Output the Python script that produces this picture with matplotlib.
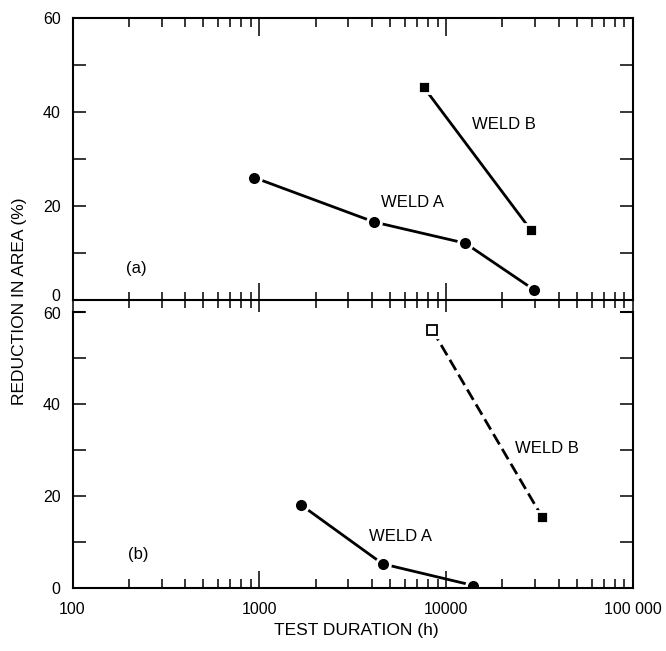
import matplotlib
matplotlib.use("Agg")
import matplotlib.pyplot as plt
import matplotlib.transforms as mtransforms
from matplotlib.lines import TICKDOWN
from matplotlib.ticker import FixedLocator, NullFormatter, FixedFormatter

plt.rcParams['font.family'] = ['Liberation Sans', 'DejaVu Sans']

# Panel (a)
a_weldA_x = [937, 4130, 12650, 29700]
a_weldA_y = [26.0, 16.5, 12.0, 2.0]
a_weldB_x = [7600, 28400]
a_weldB_y = [45.2, 14.8]

# Panel (b)
b_weldA_x = [1670, 4570, 14000]
b_weldA_y = [18.1, 5.3, 0.6]
b_weldB_x = [8440, 32700]
b_weldB_y = [56.0, 15.4]

xticks = [100, 1000, 10000, 100000]
xticklabels = ['100', '1000', '10000', '100 000']
xminor = [m * 10 ** e for e in (2, 3, 4) for m in range(2, 10)]
yticks = [0, 20, 40, 60]
ytick_labels = ['0', '20', '40', '60']

W, H = 666, 651
fig = plt.figure(figsize=(W/100, H/100), dpi=100)
L, R = 72.5/W, 633/W
ax1 = fig.add_axes([L, 1-299.5/H, R-L, (299.5-18)/H])
ax2 = fig.add_axes([L, 1-588.3/H, R-L, (588.3-311.7)/H])

lw = 2.0
tfs = 11.5

for ax in (ax1, ax2):
    ax.set_xscale('log')
    ax.set_xlim(100, 100000)
    ax.xaxis.set_major_locator(FixedLocator(xticks))
    ax.xaxis.set_minor_locator(FixedLocator(xminor))
    ax.xaxis.set_minor_formatter(NullFormatter())
    ax.set_ylim(0, 60)
    ax.yaxis.set_major_locator(FixedLocator(yticks))
    ax.yaxis.set_major_formatter(FixedFormatter(ytick_labels))
    ax.yaxis.set_minor_locator(FixedLocator([10, 30, 50]))
    ax.tick_params(axis='y', which='both', direction='in', left=True, right=True,
                   length=9.4, width=1.1, labelsize=tfs, pad=8.5)
    for s in ax.spines.values():
        s.set_linewidth(1.5)

# top panel x ticks: bottom ones cross the axis
ax1.tick_params(axis='x', which='major', direction='inout', bottom=True, top=False,
                length=24, width=1.1, labelbottom=False)
ax1.tick_params(axis='x', which='minor', direction='inout', bottom=True, top=False,
                length=12, width=1.1)
# top-edge ticks of panel (a), pointing inward
top_tr = mtransforms.blended_transform_factory(ax1.transData, ax1.transAxes)
ax1.plot(xticks, [1] * len(xticks), transform=top_tr, ls='none', marker=TICKDOWN,
         markersize=13, markeredgewidth=1.1, color='black', clip_on=False)
ax1.plot(xminor, [1] * len(xminor), transform=top_tr, ls='none', marker=TICKDOWN,
         markersize=6.5, markeredgewidth=1.1, color='black', clip_on=False)

# bottom panel x ticks
ax2.xaxis.set_major_formatter(FixedFormatter(xticklabels))
ax2.tick_params(axis='x', which='major', direction='in', top=False, bottom=True,
                length=12, width=1.1, labelsize=tfs, pad=10)
ax2.tick_params(axis='x', which='minor', direction='in', top=False, bottom=True,
                length=6.5, width=1.1)
ax2.spines['top'].set_visible(False)
for xs in ([0, 0.021], [0.979, 1.0]):
    ax2.plot(xs, [1, 1], transform=ax2.transAxes, color='black', lw=1.5,
             clip_on=False, solid_capstyle='projecting')

# nudge the touching "0" / "60" labels apart a little, as in the scan
lab0 = ax1.yaxis.get_majorticklabels()[0]
lab0.set_transform(lab0.get_transform() + mtransforms.ScaledTranslation(0, 3/72, fig.dpi_scale_trans))
lab60 = ax2.yaxis.get_majorticklabels()[-1]
lab60.set_transform(lab60.get_transform() + mtransforms.ScaledTranslation(0, -1/72, fig.dpi_scale_trans))

mk = dict(color='black', markeredgecolor='white', markeredgewidth=2.0)
ax1.plot(a_weldA_x, a_weldA_y, marker='o', markersize=10, lw=lw, **mk)
ax1.plot(a_weldB_x, a_weldB_y, marker='s', markersize=9.3, lw=lw, **mk)

ax2.plot(b_weldA_x, b_weldA_y, marker='o', markersize=10, lw=lw, **mk)
ax2.plot(b_weldB_x, b_weldB_y, color='black', lw=lw, dashes=(4.3, 1.9))
ax2.plot(b_weldB_x[:1], b_weldB_y[:1], marker='s', markersize=11, color='white',
         markeredgecolor='white', ls='none')
ax2.plot(b_weldB_x[:1], b_weldB_y[:1], marker='s', markersize=7.2, color='white',
         markeredgecolor='black', markeredgewidth=1.3, ls='none')
ax2.plot(b_weldB_x[1:], b_weldB_y[1:], marker='s', markersize=9.3, ls='none', **mk)

fs = 12
ax1.text(13680, 36.3, 'WELD B', fontsize=fs, va='baseline')
ax1.text(4485, 19.7, 'WELD A', fontsize=fs, va='baseline')
ax1.text(194, 6.6, '(a)', fontsize=fs, va='center')
ax2.text(23470, 30.4, 'WELD B', fontsize=fs, va='center')
ax2.text(3853, 11.2, 'WELD A', fontsize=fs, va='center')
ax2.text(197, 7.4, '(b)', fontsize=fs, va='center')

fig.text(19.5/W, 1-301/H, 'REDUCTION IN AREA (%)', rotation=90, va='center', ha='center', fontsize=12.5)
fig.text(356/W, 1-631/H, 'TEST DURATION (h)', ha='center', va='center', fontsize=12.5)

fig.savefig('out.png', dpi=100)
